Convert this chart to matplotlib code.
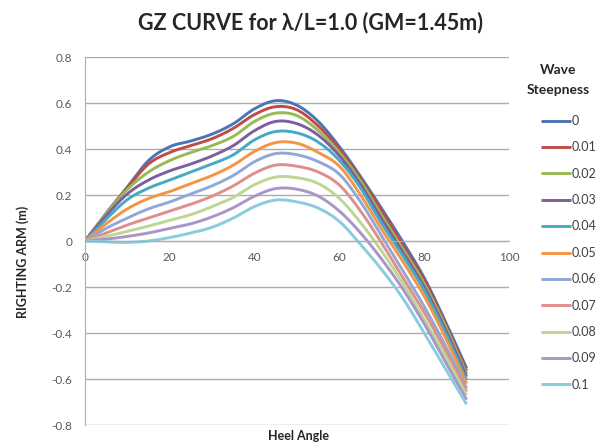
import numpy as np
import matplotlib
matplotlib.use("Agg")
import matplotlib.pyplot as plt

plt.rcParams['font.family'] = ['Lato', 'DejaVu Sans']

# ---- data ----
angles = [0, 5, 10, 15, 20, 25, 30, 35, 40, 45, 50, 55, 60, 65, 70, 75, 80, 85, 90]

gz_000 = [0, 0.120, 0.235, 0.350, 0.410, 0.435, 0.465, 0.510, 0.575, 0.610, 0.590, 0.520, 0.410, 0.280, 0.140, -0.005, -0.160, -0.350, -0.553]
gz_001 = [0, 0.120, 0.232, 0.335, 0.385, 0.415, 0.445, 0.490, 0.550, 0.584, 0.570, 0.500, 0.400, 0.270, 0.130, -0.020, -0.170, -0.360, -0.565]
gz_002 = [0, 0.118, 0.225, 0.300, 0.350, 0.385, 0.415, 0.455, 0.520, 0.556, 0.545, 0.480, 0.385, 0.260, 0.110, -0.035, -0.185, -0.370, -0.578]
gz_003 = [0, 0.110, 0.205, 0.265, 0.305, 0.335, 0.370, 0.415, 0.480, 0.520, 0.510, 0.460, 0.370, 0.245, 0.095, -0.050, -0.200, -0.385, -0.590]
gz_004 = [0, 0.095, 0.180, 0.230, 0.265, 0.300, 0.335, 0.375, 0.440, 0.476, 0.470, 0.430, 0.350, 0.230, 0.075, -0.065, -0.215, -0.400, -0.605]
gz_005 = [0, 0.075, 0.140, 0.185, 0.215, 0.250, 0.285, 0.330, 0.390, 0.428, 0.425, 0.385, 0.325, 0.200, 0.050, -0.090, -0.240, -0.420, -0.620]
gz_006 = [0, 0.055, 0.100, 0.140, 0.170, 0.205, 0.240, 0.285, 0.345, 0.380, 0.375, 0.345, 0.290, 0.170, 0.020, -0.130, -0.285, -0.455, -0.640]
gz_007 = [0, 0.035, 0.070, 0.100, 0.130, 0.160, 0.195, 0.240, 0.295, 0.330, 0.325, 0.300, 0.243, 0.130, -0.010, -0.160, -0.310, -0.475, -0.655]
gz_008 = [0, 0.020, 0.042, 0.065, 0.090, 0.115, 0.150, 0.190, 0.245, 0.278, 0.275, 0.250, 0.185, 0.080, -0.045, -0.185, -0.340, -0.500, -0.670]
gz_009 = [0, 0.008, 0.020, 0.035, 0.055, 0.075, 0.105, 0.145, 0.195, 0.228, 0.225, 0.195, 0.130, 0.035, -0.080, -0.210, -0.360, -0.525, -0.690]
gz_010 = [0, -0.004, -0.006, 0.000, 0.015, 0.035, 0.060, 0.100, 0.150, 0.178, 0.170, 0.143, 0.085, -0.015, -0.125, -0.250, -0.400, -0.555, -0.710]

series = [gz_000, gz_001, gz_002, gz_003, gz_004, gz_005,
          gz_006, gz_007, gz_008, gz_009, gz_010]
steepness_labels = ['0', '0.01', '0.02', '0.03', '0.04', '0.05',
                    '0.06', '0.07', '0.08', '0.09', '0.1']
colors = ['#4A74B4', '#BE4B48', '#98B954', '#7D5FA0', '#46AAC5', '#F59443',
          '#8FA8D8', '#DE8E8C', '#BDD694', '#A996C8', '#8ACBDD']

x_ticks = [0, 20, 40, 60, 80, 100]
y_ticks = [-0.8, -0.6, -0.4, -0.2, 0, 0.2, 0.4, 0.6, 0.8]
y_tick_labels = ['-0.8', '-0.6', '-0.4', '-0.2', '0', '0.2', '0.4', '0.6', '0.8']


def smooth(x, y, n=16):
    """Catmull-Rom style smoothing (like Excel's smoothed line)."""
    P = np.column_stack([np.asarray(x, float), np.asarray(y, float)])
    P = np.vstack([2 * P[0] - P[1], P, 2 * P[-1] - P[-2]])
    t = np.linspace(0, 1, n, endpoint=False)[:, None]
    h00 = 2 * t**3 - 3 * t**2 + 1
    h10 = t**3 - 2 * t**2 + t
    h01 = -2 * t**3 + 3 * t**2
    h11 = t**3 - t**2
    out = []
    for i in range(1, len(P) - 2):
        p0, p1, p2, p3 = P[i - 1], P[i], P[i + 1], P[i + 2]
        m1 = (p2 - p0) / 2
        m2 = (p3 - p1) / 2
        out.append(h00 * p1 + h10 * m1 + h01 * p2 + h11 * m2)
    out.append(P[-2][None, :])
    arr = np.vstack(out)
    return arr[:, 0], arr[:, 1]


fig = plt.figure(figsize=(6.05, 4.45), dpi=100)
ax = fig.add_axes([85 / 605, 20 / 445, 424 / 605, 368 / 445])

grid_c = '#ADADAD'
for yt in y_ticks:
    ax.axhline(yt, color=grid_c, lw=1.0, zorder=0)

for vals, lab, c in zip(series, steepness_labels, colors):
    sx, sy = smooth(angles, vals)
    ax.plot(sx, sy, color=c, lw=2.1, label=lab, solid_capstyle='butt')

ax.set_xlim(0, 100)
ax.set_ylim(-0.8, 0.8)
ax.set_xticks(x_ticks)
ax.set_yticks(y_ticks)
ax.set_yticklabels(y_tick_labels)

for s in ['top', 'right']:
    ax.spines[s].set_visible(False)
ax.spines['bottom'].set_position(('data', 0))
ax.spines['bottom'].set_color(grid_c)
ax.spines['left'].set_color(grid_c)
ax.tick_params(axis='both', length=0, labelsize=8.5, labelcolor='#595959')
ax.tick_params(axis='x', pad=8)
ax.tick_params(axis='y', pad=9)

fig.text(311 / 605, 1 - 23 / 445, 'GZ CURVE for λ/L=1.0 (GM=1.45m)',
         ha='center', va='center', fontsize=15.5, fontweight='bold', color='#262626')
fig.text(23 / 605, 1 - 262 / 445, 'RIGHTING ARM (m)', rotation=90,
         ha='center', va='center', fontsize=9, fontweight='bold', color='#262626')
fig.text(298 / 605, 1 - 436 / 445, 'Heel Angle', ha='center', va='center',
         fontsize=9, fontweight='bold', color='#262626')
fig.text(558 / 605, 1 - 80 / 445, 'Wave\nSteepness', ha='center', va='center',
         fontsize=10, fontweight='bold', color='#262626', linespacing=1.9,
         multialignment='center')

leg = ax.legend(loc='upper left', bbox_to_anchor=(541 / 605, 1 - 115 / 445),
                bbox_transform=fig.transFigure, frameon=False, fontsize=9,
                handlelength=2.4, handletextpad=0.05, labelspacing=1.15,
                borderaxespad=0, borderpad=0)
for t in leg.get_texts():
    t.set_color('#404040')

fig.savefig('out.png', dpi=100)
